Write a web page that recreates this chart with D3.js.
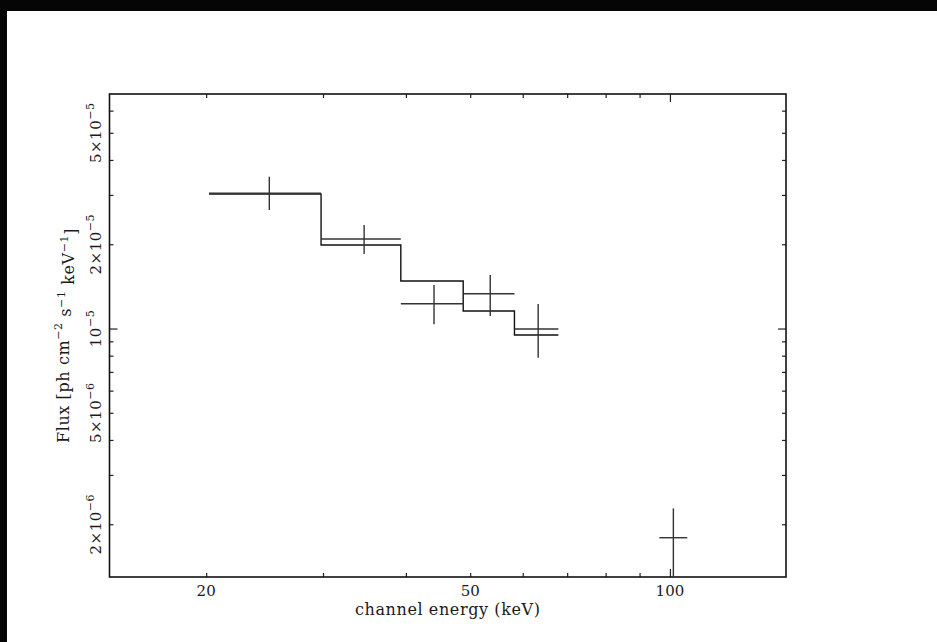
<!DOCTYPE html>
<html>
<head>
<meta charset="utf-8">
<script src="https://cdn.jsdelivr.net/npm/d3@7"></script>
<style>
  html, body { margin: 0; padding: 0; background: #fff; overflow: hidden; }
  .vis-spectrum text { font-family: "DejaVu Serif", "Liberation Serif", serif; fill: #1a1a1a; }
</style>
</head>
<body>
<div class="vis-spectrum"></div>
<script>
// data points (channel bins)
const binLo = [20.2, 29.8, 39.3, 48.8, 58.3, 96.4];
const binHi = [29.8, 39.3, 48.8, 58.3, 67.9, 106.2];
const energy = [24.9, 34.6, 44.1, 53.6, 63.3, 101.2];
const flux = [3.04e-5, 2.087e-5, 1.226e-5, 1.331e-5, 0.996e-5, 1.79e-6];
const fluxLo = [2.65e-5, 1.845e-5, 1.035e-5, 1.108e-5, 0.787e-5, 1.0e-6];
const fluxHi = [3.485e-5, 2.342e-5, 1.43e-5, 1.553e-5, 1.223e-5, 2.279e-6];

// model histogram
const modelEdges = [20.2, 29.8, 39.3, 48.8, 58.3, 67.9];
const modelFlux = [3.02e-5, 1.987e-5, 1.478e-5, 1.155e-5, 0.948e-5];

// ticks
const xTicks = [20, 30, 40, 50, 60, 70, 80, 90, 100];
const xLabels = [20, 50, 100];
const yTicks = [2e-6, 3e-6, 4e-6, 5e-6, 6e-6, 7e-6, 8e-6, 9e-6, 1e-5, 2e-5, 3e-5, 4e-5, 5e-5, 6e-5];
const yLabelVals = [2e-6, 5e-6, 1e-5, 2e-5, 5e-5];
const yLabelBase = ["2\u00d710", "5\u00d710", "10", "2\u00d710", "5\u00d710"];
const yLabelExp = ["\u22126", "\u22126", "\u22125", "\u22125", "\u22125"];

const draw = () => {
  const W = 937, H = 642;
  let margin = { top: 94, right: 151, bottom: 65, left: 109.5 };
  const width = W - margin.left - margin.right;
  const height = H - margin.top - margin.bottom;

  let root = d3.select(".vis-spectrum").append("svg")
    .attr("width", W).attr("height", H)
    .style("display", "block");

  // black scan border along top and left
  root.append("rect").attr("x", 0).attr("y", 0)
    .attr("width", W).attr("height", 11).attr("fill", "#050505");
  root.append("rect").attr("x", 0).attr("y", 0)
    .attr("width", 7).attr("height", H).attr("fill", "#050505");

  let svg = root.append("g")
    .attr("transform", "translate(" + margin.left + "," + margin.top + ")");

  let x = d3.scaleLog().domain([14.3, 149.6]).range([0, width]);
  let y = d3.scaleLog().domain([1.296e-6, 6.88e-5]).range([height, 0]);

  const isDecade = (v) => Math.abs(Math.log10(v) - Math.round(Math.log10(v))) < 1e-6;
  const tickLen = (v) => (isDecade(v) ? 8 : 4);

  svg.append("clipPath").attr("id", "plot-clip")
    .append("rect").attr("width", width).attr("height", height);

  // axes: ticks pointing inward on all four sides
  let axB = svg.append("g").attr("transform", "translate(0," + height + ")")
    .call(d3.axisBottom(x).tickValues(xTicks).tickFormat("").tickSizeOuter(0));
  axB.selectAll(".tick line").attr("y2", (d) => -tickLen(d));

  let axT = svg.append("g")
    .call(d3.axisTop(x).tickValues(xTicks).tickFormat("").tickSizeOuter(0));
  axT.selectAll(".tick line").attr("y2", (d) => tickLen(d));

  let axL = svg.append("g")
    .call(d3.axisLeft(y).tickValues(yTicks).tickFormat("").tickSizeOuter(0));
  axL.selectAll(".tick line").attr("x2", (d) => tickLen(d));

  let axR = svg.append("g").attr("transform", "translate(" + width + ",0)")
    .call(d3.axisRight(y).tickValues(yTicks).tickFormat("").tickSizeOuter(0));
  axR.selectAll(".tick line").attr("x2", (d) => -tickLen(d));

  svg.selectAll(".domain").remove();
  svg.selectAll(".tick line").attr("stroke", "#222").attr("stroke-width", 1.2);

  svg.append("rect")
    .attr("width", width).attr("height", height)
    .attr("fill", "none").attr("stroke", "#111").attr("stroke-width", 1.6);

  // x tick labels
  svg.selectAll(".xlab").data(xLabels).enter().append("text")
    .attr("x", (d) => x(d)).attr("y", height + 19)
    .style("text-anchor", "middle").style("font-size", "15px")
    .text((d) => d);

  // y tick labels, rotated, with exponent
  let yl = svg.selectAll(".ylab").data(yLabelVals).enter().append("text")
    .attr("transform", (d) => "translate(-9," + y(d) + ") rotate(-90)")
    .style("text-anchor", "middle").style("font-size", "15px")
    .attr("letter-spacing", "0.5px");
  yl.append("tspan").text((d, i) => yLabelBase[i]);
  yl.append("tspan").attr("dy", "-0.55em").style("font-size", "11px")
    .text((d, i) => yLabelExp[i]);

  // axis titles
  svg.append("text")
    .attr("x", width / 2).attr("y", height + 38)
    .style("text-anchor", "middle").style("font-size", "16px")
    .attr("letter-spacing", "0.6px")
    .text("channel energy (keV)");

  let yt = svg.append("text")
    .attr("transform", "translate(-41," + height / 2 + ") rotate(-90)")
    .style("text-anchor", "middle").style("font-size", "16px")
    .attr("letter-spacing", "0.6px");
  const titleParts = [["Flux [ph cm", "\u22122"], [" s", "\u22121"], [" keV", "\u22121"], ["]", null]];
  titleParts.forEach((p, k) => {
    yt.append("tspan").attr("dy", k === 0 ? 0 : "0.55em").text(p[0]);
    if (p[1]) yt.append("tspan").attr("dy", "-0.55em").style("font-size", "11px").text(p[1]);
  });

  let plot = svg.append("g").attr("clip-path", "url(#plot-clip)");

  // model step curve
  let stepPts = modelFlux.map((f, i) => [modelEdges[i], f]);
  stepPts.push([modelEdges[modelEdges.length - 1], modelFlux[modelFlux.length - 1]]);
  let line = d3.line().x((d) => x(d[0])).y((d) => y(d[1])).curve(d3.curveStepAfter);
  plot.append("path").datum(stepPts)
    .attr("fill", "none").attr("stroke", "#111").attr("stroke-width", 1.4)
    .attr("d", line);

  // data crosses
  const idx = d3.range(flux.length);
  plot.selectAll(".xerr").data(idx).enter().append("line")
    .attr("x1", (i) => x(binLo[i])).attr("x2", (i) => x(binHi[i]))
    .attr("y1", (i) => y(flux[i])).attr("y2", (i) => y(flux[i]))
    .attr("stroke", "#333").attr("stroke-width", 1.4);
  plot.selectAll(".yerr").data(idx).enter().append("line")
    .attr("x1", (i) => x(energy[i])).attr("x2", (i) => x(energy[i]))
    .attr("y1", (i) => y(fluxLo[i])).attr("y2", (i) => y(fluxHi[i]))
    .attr("stroke", "#333").attr("stroke-width", 1.4);
};

draw();
</script>
</body>
</html>
